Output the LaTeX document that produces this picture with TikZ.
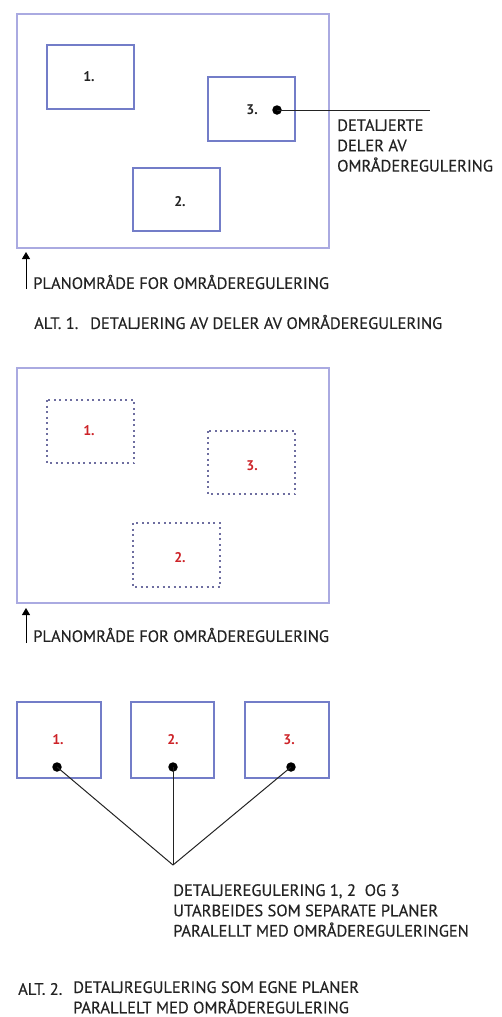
\documentclass[tikz,border=0pt]{standalone}
\usepackage{fontspec}
\setmainfont{PT Sans}
\newfontfamily\lblfont{PT Sans}[FakeBold=0.35]
\usetikzlibrary{arrows.meta}
\definecolor{outerc}{RGB}{170,170,225}
\definecolor{boxc}{RGB}{115,125,200}
\definecolor{dashc}{RGB}{110,110,160}
\definecolor{redc}{RGB}{205,35,40}
\definecolor{txtc}{RGB}{35,35,35}
\tikzset{
  outer/.style={draw=outerc, line width=1.1pt},
  subbox/.style={draw=boxc, line width=1.1pt},
  dashbox/.style={draw=dashc, line width=1.2pt, dash pattern=on 2pt off 3.5pt},
  numlbl/.style={font=\fontsize{14}{16}\selectfont\bfseries, text=txtc},
  rednum/.style={font=\fontsize{14}{16}\selectfont\bfseries, text=redc},
  lbl/.style={font=\lblfont\fontsize{16.5}{20.3}\selectfont, text=txtc, inner sep=0pt},
  leader/.style={draw=txtc, line width=1pt},
  dotc/.style={circle, fill=black, inner sep=0pt, minimum size=9.5pt},
  uparrow/.style={draw=black, line width=1pt, -{Triangle[length=7pt,width=8pt]}}
}
\begin{document}
\begin{tikzpicture}[x=1pt,y=-1pt]
\useasboundingbox (0,0) rectangle (501,1017);
% ---------- ALT 1 ----------
\draw[outer] (17,14) rectangle (329,248);
\draw[subbox] (47,45) rectangle (134,109);
\draw[subbox] (208,77) rectangle (295,141);
\draw[subbox] (133,168) rectangle (220,231);
\node[numlbl] (a1) at (89,77) {1.};
\node[numlbl] (a3) at (252,110) {3.};
\node[numlbl] (a2) at (180,202) {2.};
\node[dotc] (d3) at (277,110) {};
\coordinate (e3) at (430,110);
\draw[leader] (d3.center) -- (e3);
\node[lbl, anchor=north west, align=left] (t3) at (337,119) {DETALJERTE\\DELER AV\\OMRÅDEREGULERING};
\coordinate (ar1s) at (26,289);
\coordinate (ar1e) at (26,252);
\draw[uparrow] (ar1s) -- (ar1e);
\node[lbl, anchor=west] (p1) at (33,282) {PLANOMRÅDE FOR OMRÅDEREGULERING};
\node[lbl, anchor=west] (alt1) at (34,322) {ALT. 1.\hspace{6pt} DETALJERING AV DELER AV OMRÅDEREGULERING};
% ---------- ALT 2 plan ----------
\draw[outer] (17,368) rectangle (329,603);
\draw[dashbox] (47,400) rectangle (134,463);
\draw[dashbox] (208,431) rectangle (295,494);
\draw[dashbox] (133,523) rectangle (220,587);
\node[rednum] (b1) at (89,431) {1.};
\node[rednum] (b3) at (252,466) {3.};
\node[rednum] (b2) at (180,558) {2.};
\coordinate (ar2s) at (26,643);
\coordinate (ar2e) at (26,608);
\draw[uparrow] (ar2s) -- (ar2e);
\node[lbl, anchor=west] (p2) at (33,635) {PLANOMRÅDE FOR OMRÅDEREGULERING};
% ---------- separate plans ----------
\draw[subbox] (17,702) rectangle (101,778);
\draw[subbox] (131,702) rectangle (214,778);
\draw[subbox] (245,702) rectangle (329,778);
\node[rednum] (c1) at (58,740) {1.};
\node[rednum] (c2) at (173,740) {2.};
\node[rednum] (c3) at (289,740) {3.};
\node[dotc] (e1) at (57,767) {};
\node[dotc] (e2) at (173,767) {};
\node[dotc] (e4) at (291,767) {};
\coordinate (m) at (173,865);
\draw[leader] (e1.center) -- (m);
\draw[leader] (e2.center) -- (m);
\draw[leader] (e4.center) -- (m);
\node[lbl, anchor=north west, align=left] (t4) at (173,884) {DETALJEREGULERING 1, 2\ \ OG 3\\UTARBEIDES SOM SEPARATE PLANER\\PARALELLT MED OMRÅDEREGULERINGEN};
\node[lbl, anchor=west] (alt2a) at (18,989) {ALT. 2.};
\node[lbl, anchor=north west, align=left] (alt2b) at (73,981) {DETALJREGULERING SOM EGNE PLANER\\PARALLELT MED OMRÅDEREGULERING};
\end{tikzpicture}
\end{document}
